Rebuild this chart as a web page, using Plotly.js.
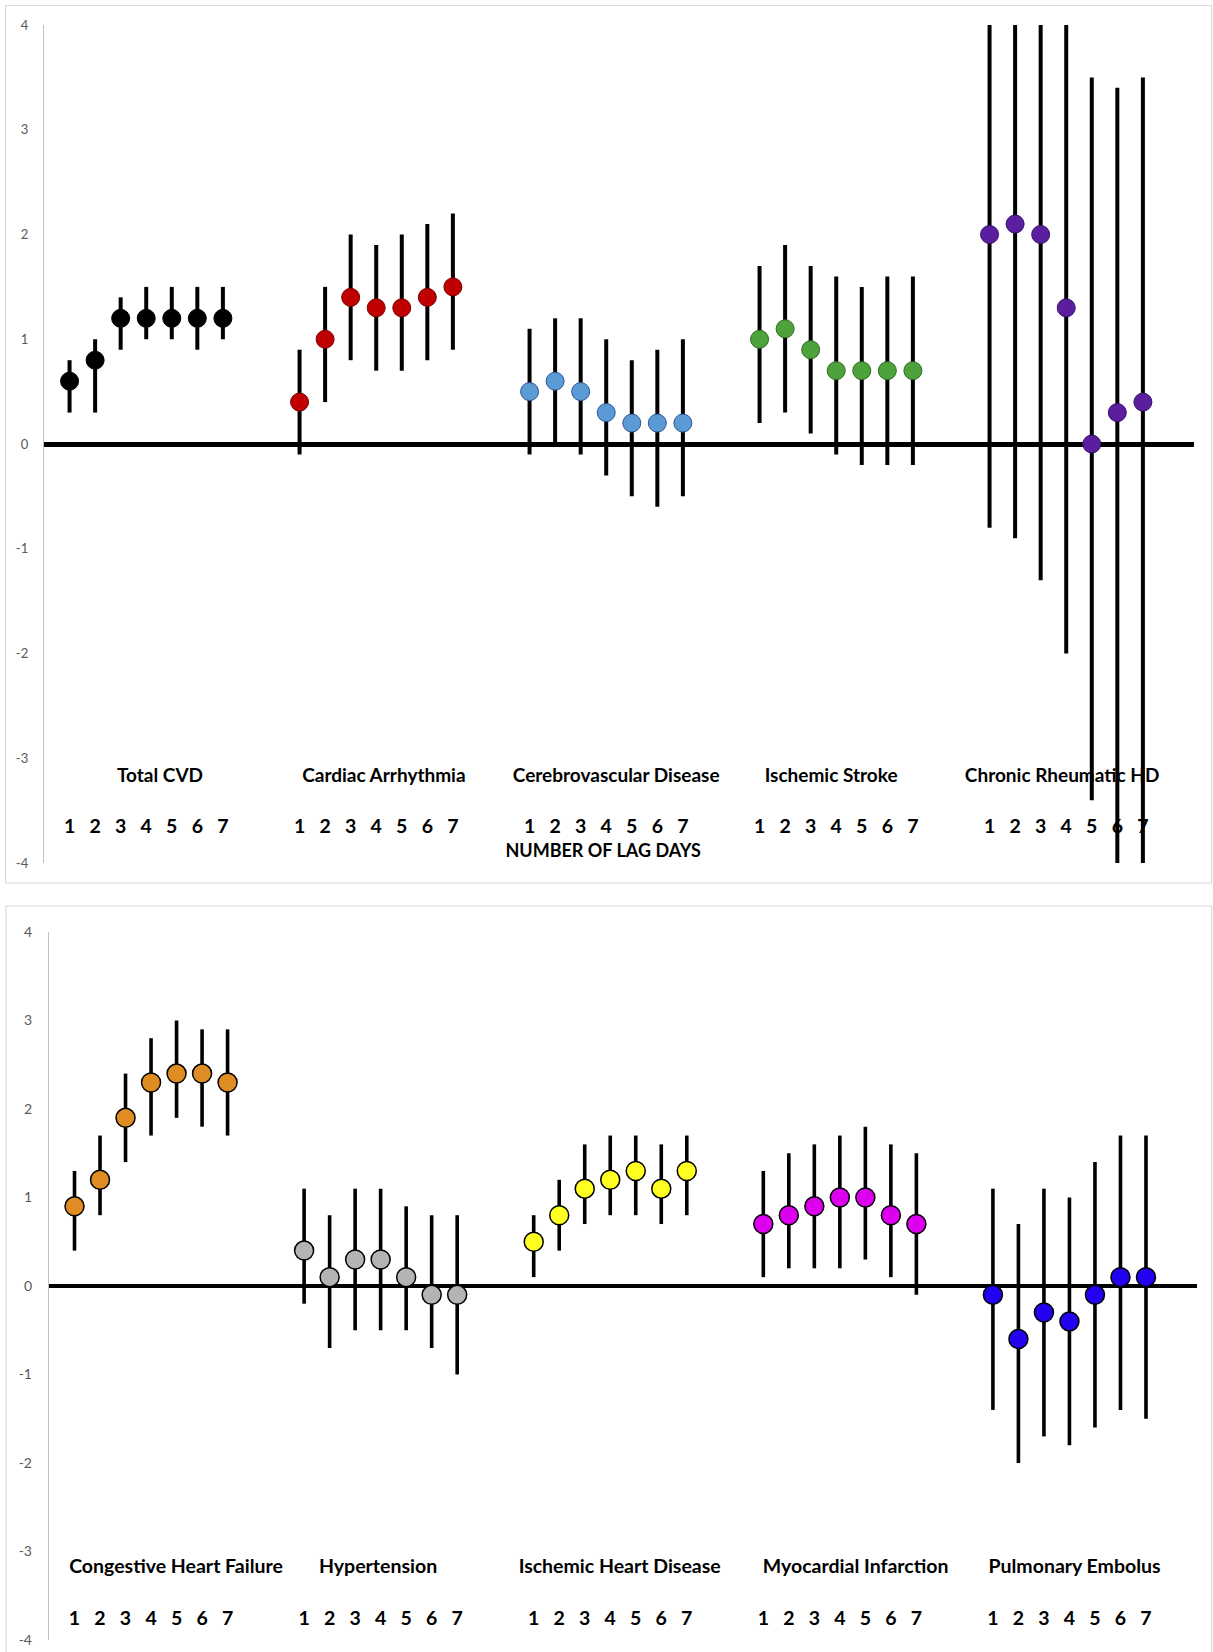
<!DOCTYPE html>
<html>
<head>
<meta charset="utf-8">
<script src="https://cdn.plot.ly/plotly-3.0.1.min.js"></script>
<style>
  html, body { margin: 0; padding: 0; background: #ffffff; }
  #chart { width: 1213px; height: 1652px; }
</style>
</head>
<body>
<div id="chart"></div>
<script>
// ---------------- DATA ----------------
const lagDays = [1, 2, 3, 4, 5, 6, 7];
const lagTickLabels = ['1', '2', '3', '4', '5', '6', '7'];
const yTickValues = [-4, -3, -2, -1, 0, 1, 2, 3, 4];
const yTickLabels = ['-4', '-3', '-2', '-1', '0', '1', '2', '3', '4'];
const axisTitle = 'NUMBER OF LAG DAYS';

// Top panel
const topGroups = ['Total CVD', 'Cardiac Arrhythmia', 'Cerebrovascular Disease', 'Ischemic Stroke', 'Chronic Rheumatic HD'];

const totalCvdEst  = [0.6, 0.8, 1.2, 1.2, 1.2, 1.2, 1.2];
const totalCvdLow  = [0.3, 0.3, 0.9, 1.0, 1.0, 0.9, 1.0];
const totalCvdHigh = [0.8, 1.0, 1.4, 1.5, 1.5, 1.5, 1.5];

const arrhythmiaEst  = [0.4, 1.0, 1.4, 1.3, 1.3, 1.4, 1.5];
const arrhythmiaLow  = [-0.1, 0.4, 0.8, 0.7, 0.7, 0.8, 0.9];
const arrhythmiaHigh = [0.9, 1.5, 2.0, 1.9, 2.0, 2.1, 2.2];

const cerebroEst  = [0.5, 0.6, 0.5, 0.3, 0.2, 0.2, 0.2];
const cerebroLow  = [-0.1, 0.0, -0.1, -0.3, -0.5, -0.6, -0.5];
const cerebroHigh = [1.1, 1.2, 1.2, 1.0, 0.8, 0.9, 1.0];

const strokeEst  = [1.0, 1.1, 0.9, 0.7, 0.7, 0.7, 0.7];
const strokeLow  = [0.2, 0.3, 0.1, -0.1, -0.2, -0.2, -0.2];
const strokeHigh = [1.7, 1.9, 1.7, 1.6, 1.5, 1.6, 1.6];

const rheumaticEst  = [2.0, 2.1, 2.0, 1.3, 0.0, 0.3, 0.4];
const rheumaticLow  = [-0.8, -0.9, -1.3, -2.0, -3.4, -4.0, -4.0];
const rheumaticHigh = [4.0, 4.0, 4.0, 4.0, 3.5, 3.4, 3.5];

// Bottom panel
const bottomGroups = ['Congestive Heart Failure', 'Hypertension', 'Ischemic Heart Disease', 'Myocardial Infarction', 'Pulmonary Embolus'];

const chfEst  = [0.9, 1.2, 1.9, 2.3, 2.4, 2.4, 2.3];
const chfLow  = [0.4, 0.8, 1.4, 1.7, 1.9, 1.8, 1.7];
const chfHigh = [1.3, 1.7, 2.4, 2.8, 3.0, 2.9, 2.9];

const hypertensionEst  = [0.4, 0.1, 0.3, 0.3, 0.1, -0.1, -0.1];
const hypertensionLow  = [-0.2, -0.7, -0.5, -0.5, -0.5, -0.7, -1.0];
const hypertensionHigh = [1.1, 0.8, 1.1, 1.1, 0.9, 0.8, 0.8];

const ihdEst  = [0.5, 0.8, 1.1, 1.2, 1.3, 1.1, 1.3];
const ihdLow  = [0.1, 0.4, 0.7, 0.8, 0.8, 0.7, 0.8];
const ihdHigh = [0.8, 1.2, 1.6, 1.7, 1.7, 1.6, 1.7];

const miEst  = [0.7, 0.8, 0.9, 1.0, 1.0, 0.8, 0.7];
const miLow  = [0.1, 0.2, 0.2, 0.2, 0.3, 0.1, -0.1];
const miHigh = [1.3, 1.5, 1.6, 1.7, 1.8, 1.6, 1.5];

const peEst  = [-0.1, -0.6, -0.3, -0.4, -0.1, 0.1, 0.1];
const peLow  = [-1.4, -2.0, -1.7, -1.8, -1.6, -1.4, -1.5];
const peHigh = [1.1, 0.7, 1.1, 1.0, 1.4, 1.7, 1.7];

// ---------------- STYLE / LAYOUT ----------------
const W = 1213, H = 1652;
const GROUP_STEP = 9;          // 7 lags + 2 empty slots per group
const FONT = 'Lato, "Open Sans", sans-serif';

const topColors = [
  {fill: '#000000', line: '#000000'},
  {fill: '#C00000', line: '#7A0000'},
  {fill: '#5B9BD5', line: '#2F5597'},
  {fill: '#4EA23C', line: '#2E6B22'},
  {fill: '#5B1E9E', line: '#37106A'}
];
const bottomColors = [
  {fill: '#DF8C22', line: '#000000'},
  {fill: '#B4B4B4', line: '#000000'},
  {fill: '#FFFF22', line: '#000000'},
  {fill: '#DD00EE', line: '#000000'},
  {fill: '#2200F0', line: '#000000'}
];

// label placement offsets (data units relative to group centre)
const topLabelShift = [0.54, 0.3, 0.39, -0.2, -0.16];
const bottomLabelShift = [0.98, -0.1, 0.37, 0.62, 0.2];

const topSeries = [
  [totalCvdEst, totalCvdLow, totalCvdHigh],
  [arrhythmiaEst, arrhythmiaLow, arrhythmiaHigh],
  [cerebroEst, cerebroLow, cerebroHigh],
  [strokeEst, strokeLow, strokeHigh],
  [rheumaticEst, rheumaticLow, rheumaticHigh]
];
const bottomSeries = [
  [chfEst, chfLow, chfHigh],
  [hypertensionEst, hypertensionLow, hypertensionHigh],
  [ihdEst, ihdLow, ihdHigh],
  [miEst, miLow, miHigh],
  [peEst, peLow, peHigh]
];

function xPos(g, lag) { return g * GROUP_STEP + lag; }

const traces = [];

function addLabels(groups, shifts, xa, ya, labelY, digitY, lsize) {
  const gx = [], gy = [], gt = [];
  groups.forEach((name, g) => {
    gx.push(xPos(g, 4) + shifts[g]); gy.push(labelY); gt.push('<b>' + name + '</b>');
  });
  traces.push({
    type: 'scatter', mode: 'text', x: gx, y: gy, text: gt, xaxis: xa, yaxis: ya,
    textposition: 'middle center', cliponaxis: false, hoverinfo: 'skip',
    textfont: {family: FONT, size: lsize, color: '#000000'}
  });
  const dx = [], dy = [], dt = [];
  groups.forEach((name, g) => {
    lagDays.forEach((lag, i) => { dx.push(xPos(g, lag)); dy.push(digitY); dt.push('<b>' + lagTickLabels[i] + '</b>'); });
  });
  traces.push({
    type: 'scatter', mode: 'text', x: dx, y: dy, text: dt, xaxis: xa, yaxis: ya,
    textposition: 'middle center', cliponaxis: false, hoverinfo: 'skip',
    textfont: {family: FONT, size: 19.5, color: '#000000'}
  });
}

addLabels(topGroups, topLabelShift, 'x', 'y', -3.18, -3.67, 19);
traces.push({
  type: 'scatter', mode: 'text', x: [21.88], y: [-3.9], text: ['<b>' + axisTitle + '</b>'],
  xaxis: 'x', yaxis: 'y', textposition: 'middle center', cliponaxis: false, hoverinfo: 'skip',
  textfont: {family: FONT, size: 18, color: '#000000'}
});
addLabels(bottomGroups, bottomLabelShift, 'x2', 'y2', -3.19, -3.77, 19.5);

function addSeries(series, colors, xa, ya, msize, mline, ethick) {
  series.forEach((s, g) => {
    const [est, low, high] = s;
    traces.push({
      type: 'scatter', mode: 'markers', xaxis: xa, yaxis: ya,
      x: lagDays.map(l => xPos(g, l)), y: est,
      marker: {size: msize, color: colors[g].fill, line: {color: colors[g].line, width: mline}},
      error_y: {
        type: 'data', symmetric: false,
        array: high.map((h, i) => h - est[i]),
        arrayminus: low.map((l, i) => est[i] - l),
        color: '#000000', thickness: ethick, width: 0
      },
      cliponaxis: true
    });
  });
}
addSeries(topSeries, topColors, 'x', 'y', 18, 1, 4);
addSeries(bottomSeries, bottomColors, 'x2', 'y2', 19, 1.5, 3.6);

function yAxis(domain, anchor, fsize, tlen, zw) {
  return {
    domain: domain, anchor: anchor, range: [-4, 4], tickvals: yTickValues, ticktext: yTickLabels,
    showgrid: false, showline: true, linecolor: '#BFBFBF', linewidth: 1.2,
    zeroline: true, zerolinecolor: '#000000', zerolinewidth: zw,
    ticks: 'outside', ticklen: tlen, tickcolor: 'rgba(0,0,0,0)',
    tickfont: {family: FONT, size: fsize, color: '#595959'}, fixedrange: true
  };
}
function xAxis(domain, anchor) {
  return {domain: domain, anchor: anchor, range: [0, 45], visible: false, fixedrange: true};
}

const layout = {
  width: W, height: H,
  margin: {l: 0, r: 0, t: 0, b: 0},
  paper_bgcolor: '#ffffff', plot_bgcolor: 'rgba(0,0,0,0)',
  showlegend: false,
  xaxis:  xAxis([44 / W, 1194 / W], 'y'),
  yaxis:  yAxis([1 - 863 / H, 1 - 25 / H], 'x', 13, 12, 5),
  xaxis2: xAxis([49 / W, 1197 / W], 'y2'),
  yaxis2: yAxis([1 - 1640 / H, 1 - 932 / H], 'x2', 14, 13, 4.5),
  shapes: [
    {type: 'rect', xref: 'paper', yref: 'paper', x0: 5.5 / W, x1: 1211.5 / W, y0: 1 - 883 / H, y1: 1 - 5.5 / H,
     line: {color: '#D9D9D9', width: 1.2}, fillcolor: 'rgba(0,0,0,0)', layer: 'below'},
    {type: 'rect', xref: 'paper', yref: 'paper', x0: 6 / W, x1: 1211.5 / W, y0: -0.01, y1: 1 - 906 / H,
     line: {color: '#D9D9D9', width: 1.2}, fillcolor: 'rgba(0,0,0,0)', layer: 'below'}
  ]
};

Plotly.newPlot('chart', traces, layout, {displayModeBar: false, staticPlot: true});
</script>
</body>
</html>
